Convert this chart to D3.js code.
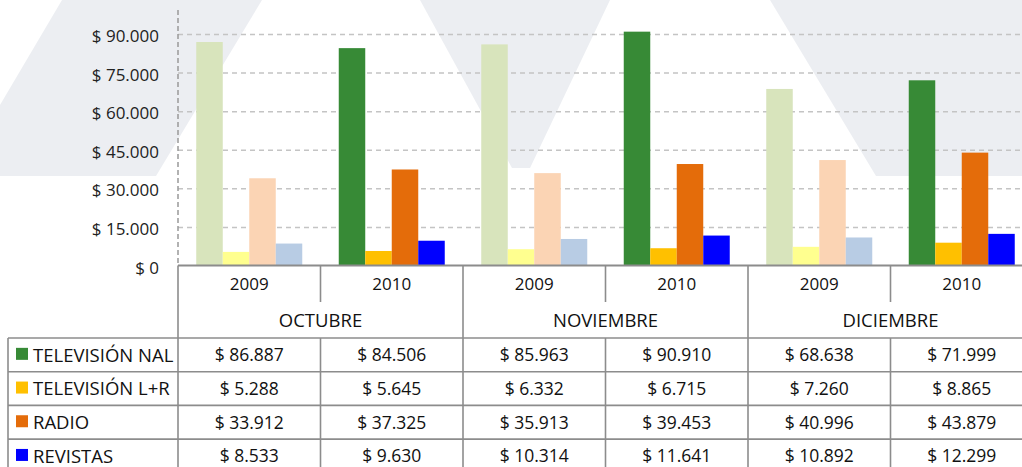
<!DOCTYPE html>
<html>
<head>
<meta charset="utf-8">
<script src="https://cdn.jsdelivr.net/npm/d3@7"></script>
<style>
  body { margin: 0; background: #fff; }
  svg { display: block; font-family: "Open Sans", sans-serif; }
</style>
</head>
<body>
<svg width="1022" height="467"></svg>
<script>
// data
var months = ["OCTUBRE", "NOVIEMBRE", "DICIEMBRE"];
var years = ["2009", "2010"];
var seriesNames = ["TELEVISIÓN NAL", "TELEVISIÓN L+R", "RADIO", "REVISTAS"];
var tvNal    = [86887, 84506, 85963, 90910, 68638, 71999];
var tvLR     = [5288, 5645, 6332, 6715, 7260, 8865];
var radio    = [33912, 37325, 35913, 39453, 40996, 43879];
var revistas = [8533, 9630, 10314, 11641, 10892, 12299];
var yTicks = [0, 15000, 30000, 45000, 60000, 75000, 90000];

var colors2010 = ["#378a36", "#ffc000", "#e46c0a", "#0000ff"];
var colors2009 = ["#d8e4bc", "#ffff8f", "#fbd4b4", "#b8cce4"];

var seriesValues = [tvNal, tvLR, radio, revistas];

// columns = month x year
var columns = [];
months.forEach(function(m) {
  years.forEach(function(y) { columns.push({month: m, year: y, key: m + "-" + y}); });
});

var svg = d3.select("svg");
var W = 1022;
var left = 178, colW = 142.5;
var baseY = 265.5, rowTop = 338, rowH = 33.7;
var lineCol = "#8c8c8c";

// faint watermark shapes in the background
var marks = [
  [[62, 0], [262, 0], [156, 176], [0, 176], [0, 105]],
  [[420, 0], [610, 0], [530, 168], [512, 168]],
  [[770, 0], [1022, 0], [1022, 176], [876, 176]]
];
svg.append("g").selectAll("path").data(marks).enter()
  .append("path")
  .attr("d", function(d) { return d3.line()(d) + "Z"; })
  .attr("fill", "#eceef2");

var x0 = d3.scaleBand()
  .domain(columns.map(function(c) { return c.key; }))
  .range([left, left + colW * columns.length]);

var x1 = d3.scaleBand()
  .domain(d3.range(seriesNames.length))
  .range([18.25, colW - 18.25]);

var y = d3.scaleLinear().domain([0, 90000]).range([baseY, 34]);

var locale = d3.formatLocale({decimal: ",", thousands: ".", grouping: [3], currency: ["$ ", ""]});
var money = locale.format("$,.0f");

// grid + tick labels
var yAxis = d3.axisLeft(y)
  .tickValues(yTicks)
  .tickFormat(money)
  .tickSizeInner(-(W - left))
  .tickSizeOuter(0)
  .tickPadding(19);

var gy = svg.append("g").attr("transform", "translate(" + left + ",0)").call(yAxis);
gy.select(".domain").remove();
gy.selectAll(".tick line")
  .attr("stroke", "#c4c4c4")
  .attr("stroke-width", 1.5)
  .attr("stroke-dasharray", "5,4")
  .filter(function(d) { return d === 0; }).remove();
gy.selectAll(".tick text")
  .attr("font-size", 17)
  .attr("font-family", "Open Sans, sans-serif")
  .attr("fill", "#222")
  .attr("dy", "0.45em");

// dashed value axis
svg.append("line")
  .attr("x1", left).attr("x2", left)
  .attr("y1", 10).attr("y2", baseY)
  .attr("stroke", "#999").attr("stroke-width", 1.5)
  .attr("stroke-dasharray", "5,3");

// bars
var groups = svg.append("g").selectAll("g.col").data(columns).enter()
  .append("g").classed("col", true)
  .attr("transform", function(d) { return "translate(" + x0(d.key) + ",0)"; });

groups.selectAll("rect")
  .data(function(d, ci) {
    return seriesValues.map(function(vals, si) {
      return {si: si, v: vals[ci], year: d.year};
    });
  })
  .enter().append("rect")
  .attr("x", function(d) { return x1(d.si); })
  .attr("width", x1.bandwidth())
  .attr("y", function(d) { return y(d.v); })
  .attr("height", function(d) { return baseY - y(d.v); })
  .attr("fill", function(d) { return d.year === "2009" ? colors2009[d.si] : colors2010[d.si]; });

// table lines
var tbl = svg.append("g").attr("stroke", lineCol).attr("stroke-width", 1.6);
var bottom = 470;
// baseline
tbl.append("line").attr("x1", left).attr("x2", W).attr("y1", baseY).attr("y2", baseY).attr("stroke-width", 2);
// vertical separators
columns.forEach(function(c, i) {
  var xx = x0(c.key);
  if (i % 2 === 0) {
    tbl.append("line").attr("x1", xx).attr("x2", xx).attr("y1", baseY).attr("y2", bottom);
  } else {
    tbl.append("line").attr("x1", xx).attr("x2", xx).attr("y1", baseY).attr("y2", 302);
    tbl.append("line").attr("x1", xx).attr("x2", xx).attr("y1", rowTop).attr("y2", bottom);
  }
});
// left border of legend column
tbl.append("line").attr("x1", 8).attr("x2", 8).attr("y1", rowTop).attr("y2", bottom);
// horizontal row lines
seriesNames.forEach(function(s, i) {
  var yy = rowTop + i * rowH;
  tbl.append("line").attr("x1", 8).attr("x2", W).attr("y1", yy).attr("y2", yy);
});

var txt = svg.append("g")
  .attr("font-size", 17.5)
  .attr("fill", "#111")
  .attr("text-anchor", "middle");

// year labels
txt.selectAll("text.year").data(columns).enter()
  .append("text").classed("year", true)
  .attr("x", function(d) { return x0(d.key) + colW / 2; })
  .attr("y", 284)
  .attr("dy", "0.36em")
  .attr("font-size", 17)
  .text(function(d) { return d.year; });

// month labels
txt.selectAll("text.month").data(months).enter()
  .append("text").classed("month", true)
  .attr("x", function(d) { return x0(d + "-2009") + colW; })
  .attr("y", 320.5)
  .attr("dy", "0.36em")
  .attr("font-size", 18.5)
  .text(function(d) { return d; });

// table rows
seriesNames.forEach(function(name, si) {
  var cy = rowTop + si * rowH + rowH / 2;
  svg.append("rect")
    .attr("x", 16).attr("y", cy - 7)
    .attr("width", 12).attr("height", 12)
    .attr("fill", colors2010[si]);
  svg.append("text")
    .attr("x", 33).attr("y", cy)
    .attr("dy", "0.36em")
    .attr("font-size", 18.5).attr("fill", "#111")
    .text(name);
  txt.selectAll("text.v" + si).data(columns).enter()
    .append("text").classed("v" + si, true)
    .attr("x", function(d) { return x0(d.key) + colW / 2; })
    .attr("y", cy)
    .attr("dy", "0.36em")
    .text(function(d, ci) { return money(seriesValues[si][ci]); });
});
</script>
</body>
</html>
